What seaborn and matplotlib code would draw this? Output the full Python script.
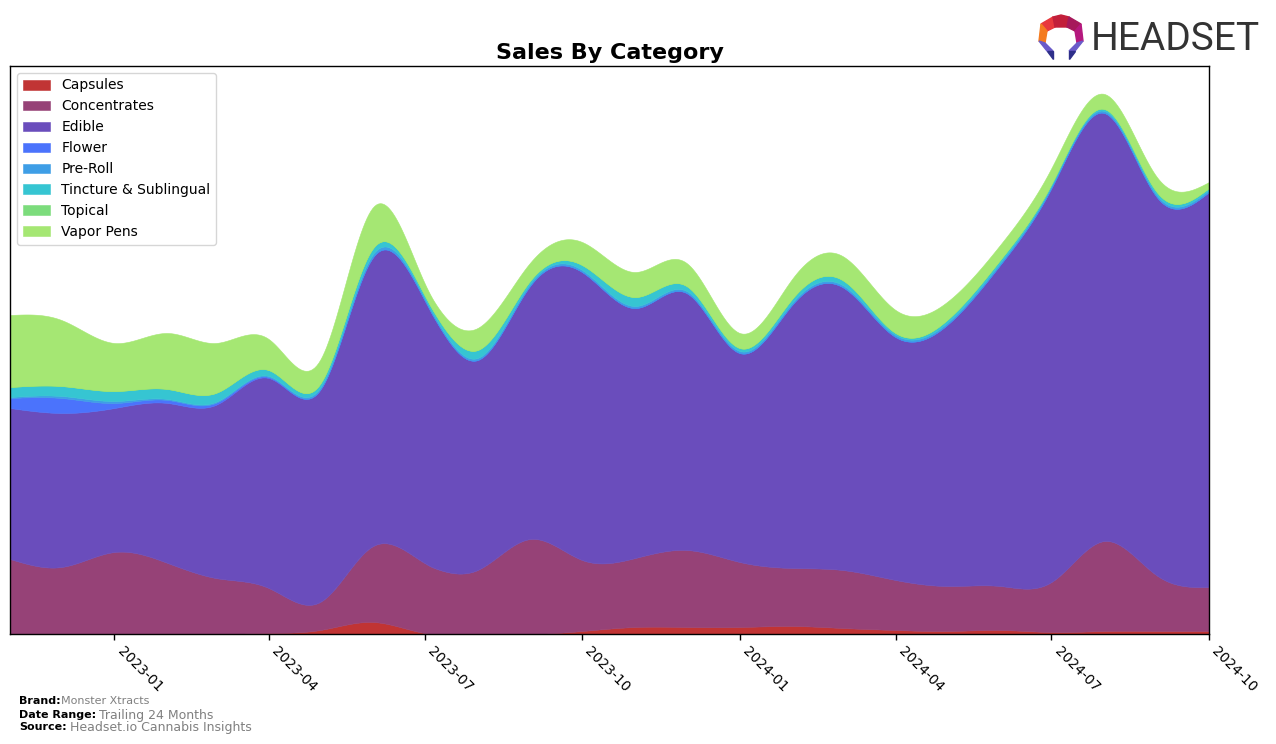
import numpy as np
import pandas as pd
import matplotlib
matplotlib.use("Agg")
import matplotlib.pyplot as plt
import matplotlib.dates as mdates
from matplotlib.patches import Polygon
import seaborn as sns

months = pd.date_range("2022-11-01", "2024-10-01", freq="MS")

categories = ["Capsules", "Concentrates", "Edible", "Flower", "Pre-Roll",
              "Tincture & Sublingual", "Topical", "Vapor Pens"]

capsules = [0, 0, 0, 0, 0, 1, 4, 12, 1, 0, 0, 3, 7, 7, 7, 8, 6, 4, 3, 4, 2, 3, 3, 3]
concentrates = [75, 67, 82, 71, 56, 45, 28, 76, 70, 64, 95, 71, 69, 77, 65, 58, 58, 50, 45, 44, 50, 90, 55, 44]
edible = [151, 154, 144, 160, 173, 210, 212, 289, 263, 210, 254, 288, 250, 257, 209, 264, 283, 243, 261, 321, 394, 428, 378, 395]
flower = [10, 15, 5, 3, 2, 1, 0, 0, 0, 0, 0, 0, 0, 0, 0, 0, 0, 0, 0, 0, 0, 0, 0, 0]
preroll = [1, 2, 2, 1, 1, 1, 2, 3, 2, 2, 2, 2, 2, 2, 2, 2, 2, 2, 2, 2, 2, 2, 2, 2]
tincture = [10, 10, 10, 10, 9, 6, 4, 6, 3, 8, 3, 5, 9, 5, 3, 4, 5, 2, 3, 3, 2, 2, 3, 2]
topical = [0, 0, 0, 0, 0, 0, 0, 0, 0, 0, 0, 0, 0, 0, 0, 0, 0, 0, 0, 0, 0, 0, 0, 0]
vapor = [72, 66, 48, 56, 50, 31, 24, 41, 12, 22, 18, 23, 25, 23, 15, 20, 24, 23, 18, 15, 16, 15, 15, 6]

series = [capsules, concentrates, edible, flower, preroll, tincture, topical, vapor]
colors = ["#C13434", "#964277", "#6A4DBC", "#4B73FC", "#3E9EE6", "#36C5D2", "#7CDC7C", "#A5E773"]

xtick_dates = pd.date_range("2023-01-01", "2024-10-01", freq="3MS")
xtick_labels = [d.strftime("%Y-%m") for d in xtick_dates]


def natural_spline(x, y, xs):
    x = np.asarray(x, float)
    y = np.asarray(y, float)
    n = len(x)
    h = np.diff(x)
    A = np.zeros((n, n))
    b = np.zeros(n)
    A[0, 0] = 1
    A[-1, -1] = 1
    for i in range(1, n - 1):
        A[i, i - 1] = h[i - 1]
        A[i, i] = 2 * (h[i - 1] + h[i])
        A[i, i + 1] = h[i]
        b[i] = 3 * ((y[i + 1] - y[i]) / h[i] - (y[i] - y[i - 1]) / h[i - 1])
    c = np.linalg.solve(A, b)
    out = np.empty_like(xs)
    idx = np.clip(np.searchsorted(x, xs) - 1, 0, n - 2)
    for k, (xv, i) in enumerate(zip(xs, idx)):
        bi = (y[i + 1] - y[i]) / h[i] - h[i] * (2 * c[i] + c[i + 1]) / 3
        di = (c[i + 1] - c[i]) / (3 * h[i])
        t = xv - x[i]
        out[k] = y[i] + bi * t + c[i] * t ** 2 + di * t ** 3
    return out


sns.set_style("white")
plt.rcParams["font.family"] = ["DejaVu Sans"]
plt.rcParams["text.color"] = "black"
plt.rcParams["xtick.color"] = "black"
plt.rcParams["axes.labelcolor"] = "black"

fig = plt.figure(figsize=(12.76, 7.44), dpi=100)
ax = fig.add_axes([10 / 1276, 1 - 634 / 744, 1199 / 1276, 568 / 744])

xnum = mdates.date2num(months)
xs = np.linspace(xnum[0], xnum[-1], 600)
smooth = [np.clip(natural_spline(xnum, s, xs), 0, None) for s in series]

ax.stackplot(xs, *smooth, labels=categories, colors=colors, linewidth=0.4,
             edgecolor="face")

ax.set_xlim(xnum[0], xnum[-1])
ax.set_ylim(0, 634 - 66)
ax.set_yticks([])
ax.set_xticks(mdates.date2num(xtick_dates))
ax.set_xticklabels(xtick_labels, rotation=-45, ha="left", fontsize=10, color="black")
ax.tick_params(axis="x", length=4, width=1, color="black", bottom=True, pad=3)
for sp in ax.spines.values():
    sp.set_visible(True)
    sp.set_color("black")
    sp.set_linewidth(1)

ax.set_title("Sales By Category", fontsize=16, fontweight="bold", pad=5, color="black")

leg = ax.legend(loc="upper left", fontsize=10, frameon=True, handlelength=2,
                borderaxespad=0.5, labelspacing=0.5)
leg.get_frame().set_edgecolor("#cccccc")
for t in leg.get_texts():
    t.set_color("black")

# footer
fig.text(19 / 1276, 1 - 701 / 744, "Brand:", fontsize=8, fontweight="bold", va="center")
fig.text(61 / 1276, 1 - 701 / 744, "Monster Xtracts", fontsize=8, color="#808080", va="center")
fig.text(19 / 1276, 1 - 715 / 744, "Date Range:", fontsize=8, fontweight="bold", va="center")
fig.text(99 / 1276, 1 - 715 / 744, "Trailing 24 Months", fontsize=9, color="#808080", va="center")
fig.text(19 / 1276, 1 - 727 / 744, "Source:", fontsize=8, fontweight="bold", va="center")
fig.text(70 / 1276, 1 - 727 / 744, "Headset.io Cannabis Insights", fontsize=9, color="#808080", va="center")

# logo
fig.text(1091 / 1276, 1 - 39 / 744, "HEADSET", fontsize=28, color="#333333",
         va="center", ha="left", fontfamily=["Roboto", "DejaVu Sans"])
lx, ly = 1061, 37
def P(pts, c):
    fig.patches.append(Polygon([((lx + a) / 1276, 1 - (ly + b) / 744) for a, b in pts],
                               closed=True, transform=fig.transFigure, color=c))
P([(-20, -13), (-8, -20), (-6, -10), (-14, -6)], "#E8383D")
P([(-8, -20), (0, -22), (8, -20), (6, -10), (-6, -10)], "#C21F3A")
P([(8, -20), (20, -13), (14, -6), (6, -10)], "#A6195B")
P([(-20, -13), (-14, -6), (-16, 6), (-22, 4)], "#F47B20")
P([(20, -13), (22, 4), (16, 6), (14, -6)], "#B5187E")
P([(-22, 4), (-16, 6), (-8, 14), (-14, 14)], "#6A5BC9")
P([(-14, 14), (-8, 14), (-8, 22)], "#2E2F8A")
P([(22, 4), (16, 6), (8, 14), (14, 14)], "#6A5BC9")
P([(14, 14), (8, 14), (8, 22)], "#2E2F8A")

fig.savefig("out.png", dpi=100)
